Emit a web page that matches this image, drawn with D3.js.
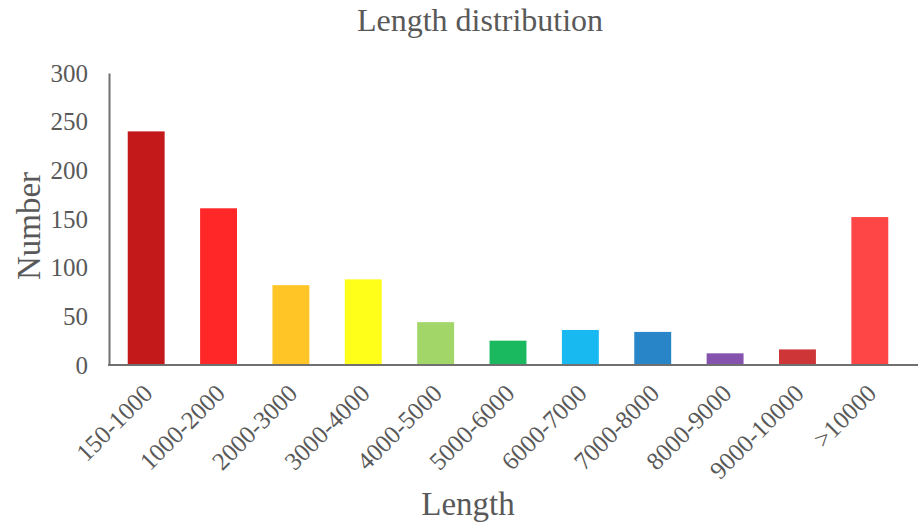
<!DOCTYPE html>
<html>
<head>
<meta charset="utf-8">
<script src="https://cdn.jsdelivr.net/npm/d3@7"></script>
<style>
  html, body { margin: 0; padding: 0; background: #fff; }
  svg text { font-family: "Liberation Serif", "Times New Roman", serif; fill: #595959; }
</style>
</head>
<body>
<svg id="chart" width="919" height="527"></svg>
<script>
// Length bins, counts per bin and a colour per bar
const categories = ["150-1000", "1000-2000", "2000-3000", "3000-4000", "4000-5000",
  "5000-6000", "6000-7000", "7000-8000", "8000-9000", "9000-10000", ">10000"];
const counts = [240, 161, 82, 88, 44, 25, 36, 34, 12, 16, 152];
const barColors = ["#C4191B", "#FF2727", "#FFC425", "#FFFF1A", "#A2D668", "#1AB85F",
  "#18B8F0", "#2785C8", "#8552AE", "#CD3537", "#FF4646"];
const yTicks = [0, 50, 100, 150, 200, 250, 300];

const svg = d3.select("#chart");
const plot = { left: 110, right: 906, top: 73, bottom: 365 };

const x = d3.scaleBand().domain(categories).range([plot.left, plot.right])
  .paddingInner(0.49).paddingOuter(0.245);
const y = d3.scaleLinear().domain([0, 300]).range([plot.bottom, plot.top]);

// Bars
svg.append("g").selectAll("rect").data(categories).join("rect")
  .attr("x", d => x(d))
  .attr("y", (d, i) => y(counts[i]))
  .attr("width", x.bandwidth())
  .attr("height", (d, i) => y(0) - y(counts[i]))
  .attr("fill", (d, i) => barColors[i]);

// Y axis
const yAxis = svg.append("g").attr("transform", `translate(${plot.left - 1},0)`)
  .call(d3.axisLeft(y).tickValues(yTicks).tickSize(0).tickPadding(21));
yAxis.select(".domain").attr("stroke", "#707070").attr("stroke-width", 2);
yAxis.selectAll("text").style("font-size", "25px").attr("fill", "#595959");

// X axis
const xAxis = svg.append("g").attr("transform", `translate(0,${plot.bottom})`)
  .call(d3.axisBottom(x).tickSize(0).tickPadding(0));
xAxis.select(".domain").attr("stroke", "#707070").attr("stroke-width", 2)
  .attr("d", `M${plot.left - 2},0H918`);
xAxis.selectAll("text")
  .style("font-size", "25px")
  .attr("fill", "#595959")
  .attr("text-anchor", "end")
  .attr("dy", 0)
  .attr("transform", "translate(8,30) rotate(-45)");

// Titles
svg.append("text").attr("x", 480).attr("y", 31).attr("text-anchor", "middle")
  .style("font-size", "32px").text("Length distribution");
svg.append("text").attr("transform", "translate(40,226) rotate(-90)").attr("text-anchor", "middle")
  .style("font-size", "33px").text("Number");
svg.append("text").attr("x", 468).attr("y", 515).attr("text-anchor", "middle")
  .style("font-size", "33px").text("Length");
</script>
</body>
</html>
